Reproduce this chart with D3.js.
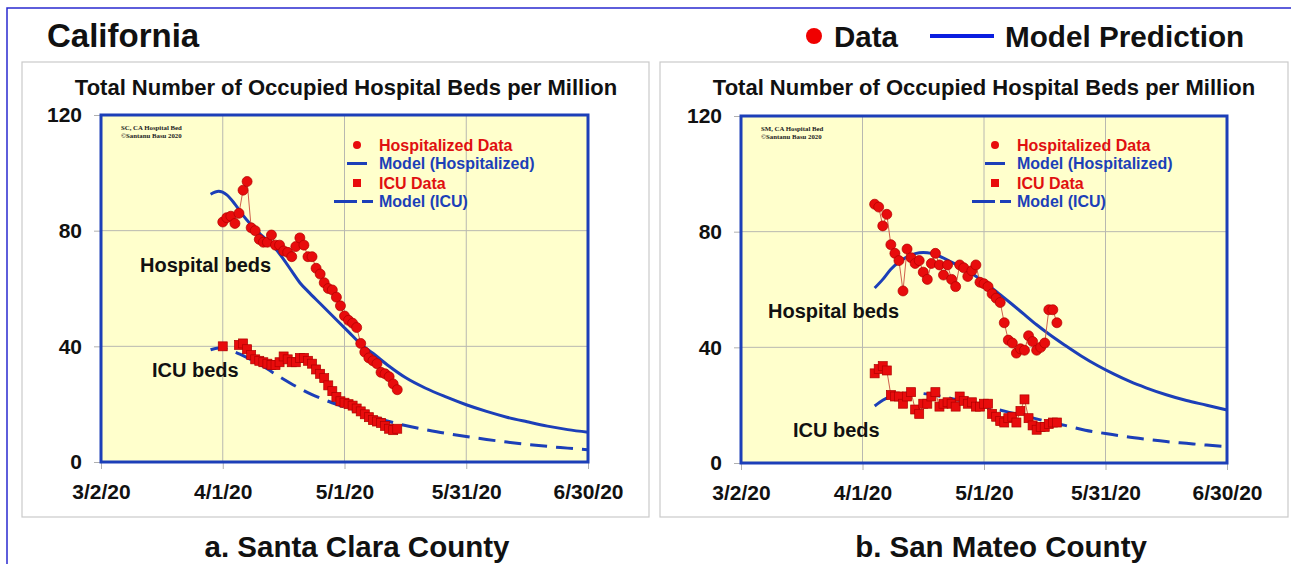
<!DOCTYPE html>
<html><head><meta charset="utf-8">
<script src="https://cdn.jsdelivr.net/npm/d3@7"></script>
<style>
body{margin:0;background:#fff}
svg{display:block}
</style>
</head><body>
<svg id="chart" width="1291" height="564" font-family='"Liberation Sans",Arial,Helvetica,sans-serif' font-weight="bold"></svg>
<script>
// ---------- DATA ----------
const startDate = "2020-03-02";          // day 0 of the x axis
const xTickLabels = ["3/2/20", "4/1/20", "5/1/20", "5/31/20", "6/30/20"];
const yTicks = [0, 40, 80, 120];

// Santa Clara County (days counted from 3/2/20)
const scHospStart = 30;
const scHosp = [83, 84.5, 85, 82.5, 86, 94, 97, 81, 80, 77, 76, 76, 78.5, 75, 75, 73, 72.5, 71, 74.5, 77.5,
  75, 71, 71, 67, 65, 62, 60, 59.5, 57, 54, 50.5, 49, 48, 46.5, 41, 38, 36, 35, 34, 31, 30.5, 29.5, 27, 25];
const scIcuStart = 30;
const scIcu = [40, null, null, null, 40.5, 41, 39, 37, 35.5, 35, 34.5, 34, 33.5, 33.5, 34.5, 36.5, 35.5, 34.5, 34.5, 36,
  36, 35, 34, 32, 30.5, 29, 26.5, 24.5, 22.5, 21, 20.5, 20, 19.5, 18.5, 17.5, 16.5, 15.5, 14.5, 14, 13.5, 12.5, 11.5, 11, 11.5];
const scModelHospDays = [27, 29, 31, 33, 35, 37, 39, 41, 43, 45, 47, 49, 51, 54, 58, 61, 64, 67, 71, 75, 80, 85, 90, 95, 100, 105, 110, 115, 120];
const scModelHosp = [92.6, 93.6, 92.4, 89.2, 85.3, 82, 79.2, 76.5, 73.7, 70.1, 66, 62, 59, 54.8, 49.2, 45, 40.8, 37.6, 33.1, 29.2, 25.5, 22.5, 19.8, 17.5, 15.5, 13.9, 12.4, 11.2, 10.3];
const scModelIcuDays = [27, 29, 32, 36, 40, 44, 48, 52, 56, 60, 63, 67, 71, 75, 80, 85, 90, 95, 100, 105, 110, 115, 120];
const scModelIcu = [38.8, 39.4, 38.5, 36.1, 33, 29.5, 26.2, 23.3, 21, 19, 17.4, 15.7, 14, 12.6, 11.2, 9.9, 8.8, 7.8, 6.9, 6.1, 5.4, 4.8, 4.2];

// San Mateo County
const smHospStart = 33;
const smHosp = [89.5, 88.5, 82, 86, 75.5, 72.5, 70, 59.5, 74, 71, 69, 70, 66, 63.5, 69, 72.5, 68.5, 65, 68.5, 63.5,
  61, 68.5, 67.5, 64.5, 66.5, 68.5, 62.5, 62, 61, 58.5, 57, 55.5, 48.5, 42.5, 41.5, 38, 39.5, 39, 44, 42, 39, 40, 41.5, 53, 53, 48.5];
const smIcuStart = 33;
const smIcu = [31, 32.5, 33.5, 32, 23.5, 23, 23, 20.5, 23, 24.5, 18.5, 17, 20.5, 20.5, 23, 24.5, 19.5, 20.5, 21, 20.5,
  19.5, 23, 21.5, 20.5, 21, 19.5, 19.5, 20.5, 20.5, 17, 16, 14.5, 14, 15.5, 16, 14, 18, 22, 15.5, 13, 11.5, 12.5, 12.5, 13.5, 14, 14];
const smModelHospDays = [33, 35, 37, 39, 41, 43, 45, 47, 49, 51, 53, 55, 58, 61, 64, 67, 70, 73, 76, 80, 84, 88, 92, 96, 100, 105, 110, 115, 120];
const smModelHosp = [60.5, 63.5, 67, 69.5, 71.3, 72.4, 72.8, 72.5, 71.5, 70.2, 68.7, 67.2, 64.6, 61.6, 58.2, 54.8, 51.3, 47.8, 44.6, 40.7, 37, 33.7, 30.8, 28.2, 26, 23.6, 21.6, 20, 18.3];
const smModelIcuDays = [33, 35, 37, 39, 42, 45, 48, 51, 54, 57, 60, 63, 66, 69, 72, 76, 80, 85, 90, 95, 100, 105, 110, 115, 120];
const smModelIcu = [19.7, 21.7, 23, 23.8, 24.2, 24, 23.4, 22.6, 21.6, 20.6, 19.6, 18.6, 17.6, 16.6, 15.6, 14.2, 13, 11.3, 10.2, 9.1, 8.2, 7.4, 6.8, 6.2, 5.7];

const legendLabels = ["Hospitalized Data", "Model (Hospitalized)", "ICU Data", "Model (ICU)"];

// ---------- DRAW ----------
const RED = "#e80c0c", RED_DARK = "#b00000", LINK = "#d0604c", BLUE = "#1c3fb8";
const SANS = '"Liberation Sans",Arial,Helvetica,sans-serif';
const SERIF = '"Liberation Serif","Times New Roman",serif';
const svg = d3.select("#chart");
const parse = d3.timeParse("%Y-%m-%d");
const t0 = parse(startDate);
const dayToDate = d => d3.timeDay.offset(t0, d);
const tickDates = xTickLabels.map(s => d3.timeParse("%m/%d/%y")(s));

svg.append("rect").attr("width", 1291).attr("height", 564).attr("fill", "#fff");
// outer frame
svg.append("path").attr("d", "M7,564 L7,8 L1291,8").attr("fill", "none").attr("stroke", "#2a2ad0").attr("stroke-width", 1.5);

svg.append("text").attr("x", 47).attr("y", 47).attr("font-size", 33).attr("fill", "#111").text("California");
// top legend
svg.append("circle").attr("cx", 814).attr("cy", 36).attr("r", 8).attr("fill", "#f00000");
svg.append("text").attr("x", 834).attr("y", 46.5).attr("font-size", 29.5).attr("fill", "#111").text("Data");
svg.append("line").attr("x1", 930).attr("x2", 994).attr("y1", 36).attr("y2", 36).attr("stroke", "#0a1ee0").attr("stroke-width", 4);
svg.append("text").attr("x", 1005).attr("y", 46.5).attr("font-size", 29.7).attr("fill", "#111").text("Model Prediction");

function panel(cfg) {
  const g = svg.append("g");
  g.append("rect").attr("x", cfg.box[0]).attr("y", cfg.box[1]).attr("width", cfg.box[2]).attr("height", cfg.box[3])
    .attr("fill", "#fff").attr("stroke", "#cacaca").attr("stroke-width", 1.2);
  g.append("text").attr("x", cfg.titleX).attr("y", 95).attr("text-anchor", "middle").attr("font-size", 22)
    .attr("fill", "#111").text("Total Number of Occupied Hospital Beds per Million");
  g.append("text").attr("x", cfg.subX).attr("y", 557).attr("text-anchor", "middle").attr("font-size", 29.5)
    .attr("fill", "#111").text(cfg.sub);

  const x = d3.scaleTime().domain([tickDates[0], tickDates[4]]).range([cfg.x0, cfg.x1]);
  const y = d3.scaleLinear().domain([0, 120]).range([cfg.y0, cfg.y1]);

  g.append("rect").attr("x", cfg.x0).attr("y", cfg.y1).attr("width", cfg.x1 - cfg.x0).attr("height", cfg.y0 - cfg.y1)
    .attr("fill", "#ffffcc");
  // grid
  g.append("g").selectAll("line").data(tickDates.slice(1, 4)).join("line")
    .attr("x1", d => x(d)).attr("x2", d => x(d)).attr("y1", cfg.y1).attr("y2", cfg.y0)
    .attr("stroke", "#b8b8b0").attr("stroke-width", 1);
  g.append("g").selectAll("line").data([40, 80]).join("line")
    .attr("x1", cfg.x0).attr("x2", cfg.x1).attr("y1", d => y(d)).attr("y2", d => y(d))
    .attr("stroke", "#b8b8b0").attr("stroke-width", 1);

  // axes
  const ax = g.append("g").attr("transform", `translate(0,${cfg.y0})`)
    .call(d3.axisBottom(x).tickValues(tickDates).tickFormat((d, i) => xTickLabels[i]).tickSize(7).tickPadding(15));
  const ay = g.append("g").attr("transform", `translate(${cfg.x0},0)`)
    .call(d3.axisLeft(y).tickValues(yTicks).tickSize(7).tickPadding(12));
  [ax, ay].forEach(a => {
    a.attr("font-family", SANS).attr("font-weight", "bold").attr("font-size", 21);
    a.select(".domain").remove();
    a.selectAll(".tick line").attr("stroke", "#b0b0b0");
    a.selectAll(".tick text").attr("fill", "#111");
  });

  // copyright note
  g.append("text").attr("x", cfg.x0 + 20).attr("y", cfg.y1 + 15).attr("font-size", 6.8)
    .attr("font-family", SERIF).attr("fill", "#222").text(cfg.note);
  g.append("text").attr("x", cfg.x0 + 20).attr("y", cfg.y1 + 22.5).attr("font-size", 6.8)
    .attr("font-family", SERIF).attr("fill", "#222").text("©Santanu  Basu 2020");

  // model lines
  const mline = d3.line().x(d => x(dayToDate(d[0]))).y(d => y(d[1])).curve(d3.curveMonotoneX);
  g.append("path").attr("d", mline(cfg.mIcuDays.map((d, i) => [d, cfg.mIcu[i]])))
    .attr("fill", "none").attr("stroke", BLUE).attr("stroke-width", 3).attr("stroke-dasharray", "17,9");
  g.append("path").attr("d", mline(cfg.mHospDays.map((d, i) => [d, cfg.mHosp[i]])))
    .attr("fill", "none").attr("stroke", BLUE).attr("stroke-width", 3);

  // data
  const dline = d3.line().defined(d => d[1] != null).x(d => x(dayToDate(d[0]))).y(d => y(d[1]));
  const hosp = cfg.hosp.map((v, i) => [cfg.hospStart + i, v]);
  const icu = cfg.icu.map((v, i) => [cfg.icuStart + i, v]);
  g.append("path").attr("d", dline(icu)).attr("fill", "none").attr("stroke", LINK).attr("stroke-width", 1);
  g.append("path").attr("d", dline(hosp)).attr("fill", "none").attr("stroke", LINK).attr("stroke-width", 1);
  g.append("g").selectAll("rect").data(icu.filter(d => d[1] != null)).join("rect")
    .attr("x", d => x(dayToDate(d[0])) - 4.5).attr("y", d => y(d[1]) - 4.5).attr("width", 9).attr("height", 9)
    .attr("fill", RED).attr("stroke", RED_DARK).attr("stroke-width", 0.7);
  g.append("g").selectAll("circle").data(hosp).join("circle")
    .attr("cx", d => x(dayToDate(d[0]))).attr("cy", d => y(d[1])).attr("r", 5)
    .attr("fill", RED).attr("stroke", RED_DARK).attr("stroke-width", 0.7);

  // plot frame
  g.append("rect").attr("x", cfg.x0).attr("y", cfg.y1).attr("width", cfg.x1 - cfg.x0).attr("height", cfg.y0 - cfg.y1)
    .attr("fill", "none").attr("stroke", BLUE).attr("stroke-width", 3);

  // annotations
  g.append("text").attr("x", cfg.hb[0]).attr("y", cfg.hb[1]).attr("font-size", 20).attr("fill", "#111").text("Hospital beds");
  g.append("text").attr("x", cfg.ib[0]).attr("y", cfg.ib[1]).attr("font-size", 20).attr("fill", "#111").text("ICU beds");

  // inner legend
  const lx = cfg.leg[0], ly = cfg.leg[1], rows = [0, 18.5, 38, 56.5];
  const lg = g.append("g");
  lg.append("circle").attr("cx", lx).attr("cy", ly + rows[0]).attr("r", 4).attr("fill", RED);
  lg.append("line").attr("x1", lx - 10).attr("x2", lx + 10).attr("y1", ly + rows[1]).attr("y2", ly + rows[1]).attr("stroke", BLUE).attr("stroke-width", 3);
  lg.append("rect").attr("x", lx - 4).attr("y", ly + rows[2] - 4).attr("width", 8).attr("height", 8).attr("fill", RED);
  lg.append("line").attr("x1", lx - 23).attr("x2", lx + 16).attr("y1", ly + rows[3]).attr("y2", ly + rows[3])
    .attr("stroke", BLUE).attr("stroke-width", 3).attr("stroke-dasharray", "23,5,11");
  legendLabels.forEach((s, i) => {
    lg.append("text").attr("x", lx + 22).attr("y", ly + rows[i] + 5.7).attr("font-size", 16)
      .attr("fill", i % 2 === 0 ? "#e01010" : BLUE).text(s);
  });
}

panel({
  box: [22, 62, 627, 455], titleX: 346, subX: 357, sub: "a. Santa Clara County",
  x0: 101, x1: 588, y0: 462, y1: 115, note: "SC, CA Hospital  Bed",
  hospStart: scHospStart, hosp: scHosp, icuStart: scIcuStart, icu: scIcu,
  mHospDays: scModelHospDays, mHosp: scModelHosp, mIcuDays: scModelIcuDays, mIcu: scModelIcu,
  hb: [140, 272], ib: [152, 377], leg: [357, 145]
});
panel({
  box: [660, 62, 628, 455], titleX: 984, subX: 1001, sub: "b. San Mateo County",
  x0: 741, x1: 1227, y0: 463, y1: 116, note: "SM, CA Hospital  Bed",
  hospStart: smHospStart, hosp: smHosp, icuStart: smIcuStart, icu: smIcu,
  mHospDays: smModelHospDays, mHosp: smModelHosp, mIcuDays: smModelIcuDays, mIcu: smModelIcu,
  hb: [768, 318], ib: [793, 437], leg: [995, 145]
});
</script>
</body></html>
